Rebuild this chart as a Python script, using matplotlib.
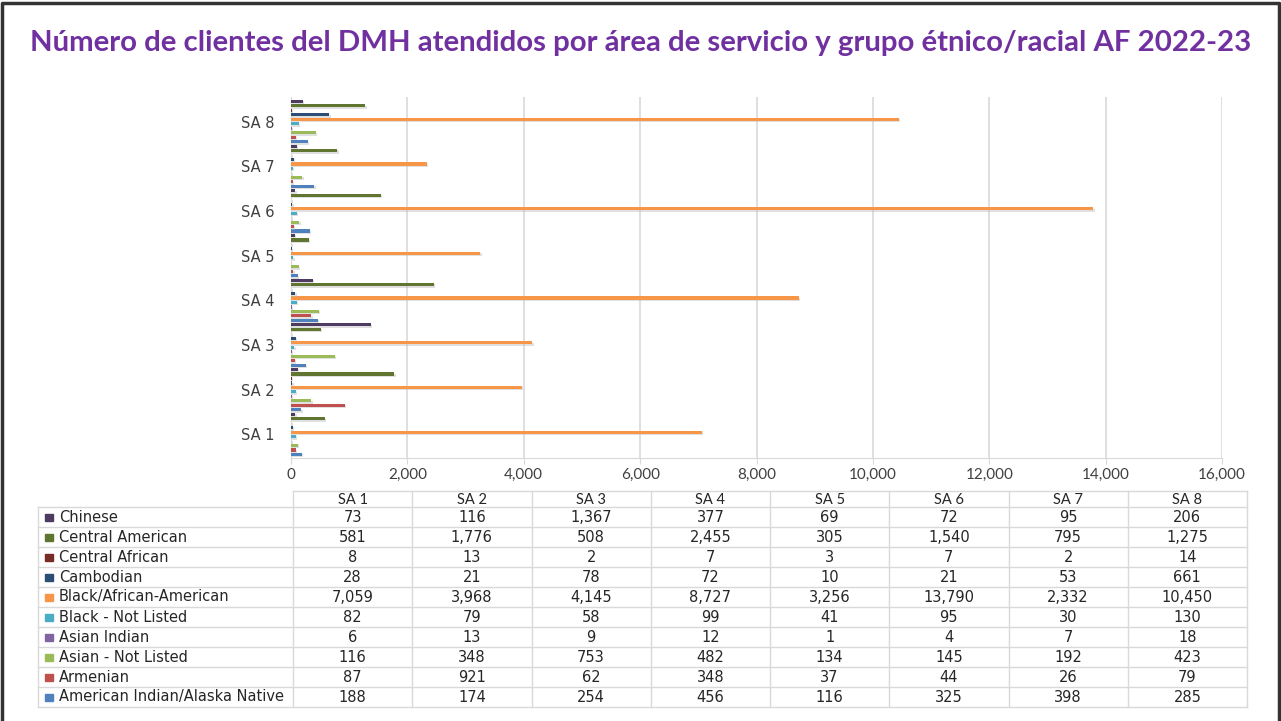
import matplotlib.pyplot as plt
import matplotlib.patheffects as pe
from matplotlib.ticker import FuncFormatter
import numpy as np

areas = ['SA 1', 'SA 2', 'SA 3', 'SA 4', 'SA 5', 'SA 6', 'SA 7', 'SA 8']

# series, from bottom of each group to top
groups = ['American Indian/Alaska Native', 'Armenian', 'Asian - Not Listed', 'Asian Indian',
          'Black - Not Listed', 'Black/African-American', 'Cambodian', 'Central African',
          'Central American', 'Chinese']
american_indian = [188, 174, 254, 456, 116, 325, 398, 285]
armenian = [87, 921, 62, 348, 37, 44, 26, 79]
asian_not_listed = [116, 348, 753, 482, 134, 145, 192, 423]
asian_indian = [6, 13, 9, 12, 1, 4, 7, 18]
black_not_listed = [82, 79, 58, 99, 41, 95, 30, 130]
black_african_american = [7059, 3968, 4145, 8727, 3256, 13790, 2332, 10450]
cambodian = [28, 21, 78, 72, 10, 21, 53, 661]
central_african = [8, 13, 2, 7, 3, 7, 2, 14]
central_american = [581, 1776, 508, 2455, 305, 1540, 795, 1275]
chinese = [73, 116, 1367, 377, 69, 72, 95, 206]

values = [american_indian, armenian, asian_not_listed, asian_indian, black_not_listed,
          black_african_american, cambodian, central_african, central_american, chinese]
colors = ['#4F81BD', '#C0504D', '#9BBB59', '#8064A2', '#4BACC6',
          '#F79646', '#2C4D75', '#772C2A', '#5F7530', '#4D3B62']

W, H = 1281, 721
fig = plt.figure(figsize=(W / 100, H / 100), dpi=100)
fig.patch.set_facecolor('white')

# chart area in pixels
x0, x1, y_top, y_bot = 291, 1222, 97, 458
ax = fig.add_axes([x0 / W, 1 - y_bot / H, (x1 - x0) / W, (y_bot - y_top) / H])

n = len(groups)
slot = 0.1
y = np.arange(len(areas))
shadow = [pe.SimplePatchShadow(offset=(1, -1), shadow_rgbFace='#bbbbbb', alpha=0.45), pe.Normal()]
for i, (vals, c) in enumerate(zip(values, colors)):
    bars = ax.barh(y + (i - (n - 1) / 2) * slot, vals, height=0.07, color=c, zorder=3)
    for b in bars:
        b.set_path_effects(shadow)

ax.set_xlim(0, 16000)
ax.set_ylim(-0.53, 7.55)
ax.set_xticks(np.arange(0, 16001, 2000))
ax.xaxis.set_major_formatter(FuncFormatter(lambda v, p: f'{int(v):,}'))
ax.set_yticks(y)
ax.set_yticklabels(areas, fontsize=10.5, color='#404040')
ax.tick_params(axis='y', length=0, pad=12)
ax.tick_params(axis='x', length=4, color='#d9d9d9', labelsize=11, labelcolor='#404040', pad=3)
for lbl in ax.get_xticklabels():
    lbl.set_family('Lato')
ax.grid(axis='x', color='#d9d9d9', linewidth=1.2, zorder=0)
for s in ['top', 'right']:
    ax.spines[s].set_visible(False)
ax.spines['left'].set_color('#d9d9d9')
ax.spines['bottom'].set_color('#d9d9d9')

# overlay in pixel coordinates for table, title and frame
ov = fig.add_axes([0, 0, 1, 1])
ov.set_xlim(0, W)
ov.set_ylim(H, 0)
ov.axis('off')
ov.patch.set_alpha(0)

title = ov.text(641, 43, 'Número de clientes del DMH atendidos por área de servicio y grupo étnico/racial AF 2022-23',
                ha='center', va='center', fontsize=20, fontweight='bold', color='#7030A0',
                family='Lato')
# fit title width to the reference (~1225 px)
r = fig.canvas.get_renderer()
tw = title.get_window_extent(r).width
title.set_fontsize(20 * 1225 / tw)

# frame
ov.plot([2, 2, 1279, 1279], [721, 3, 3, 721], color='#333333', lw=2.5)

# data table
line_c = '#d9d9d9'
tx0, col_w, ncol = 293, 119.25, len(areas)
head_top, head_bot, row_h = 491, 507, 20
label_left = 38
rows = list(range(n))[::-1]  # Chinese first
tbot = head_bot + row_h * n
tright = tx0 + col_w * ncol

ov.plot([tx0, tright], [head_top, head_top], color=line_c, lw=1)
for k in range(n + 1):
    yy = head_bot + k * row_h
    ov.plot([label_left, tright], [yy, yy], color=line_c, lw=1)
ov.plot([label_left, label_left], [head_bot, tbot], color=line_c, lw=1)
for j in range(ncol + 1):
    xx = tx0 + j * col_w
    ov.plot([xx, xx], [head_top, tbot], color=line_c, lw=1)

for j, a in enumerate(areas):
    ov.text(tx0 + (j + 0.5) * col_w, (head_top + head_bot) / 2 + 1, a, ha='center', va='center',
            fontsize=10.5, color='#262626', family='Lato')

for r_, si in enumerate(rows):
    yc = head_bot + (r_ + 0.5) * row_h
    ov.add_patch(plt.Rectangle((45, yc - 3.5), 8, 7, color=colors[si]))
    ov.text(59, yc, groups[si], ha='left', va='center', fontsize=10.5, color='#262626')
    for j in range(ncol):
        ov.text(tx0 + (j + 0.5) * col_w, yc, f'{values[si][j]:,}', ha='center', va='center',
                fontsize=10.5, color='#262626')

fig.savefig('out.png', dpi=100)
